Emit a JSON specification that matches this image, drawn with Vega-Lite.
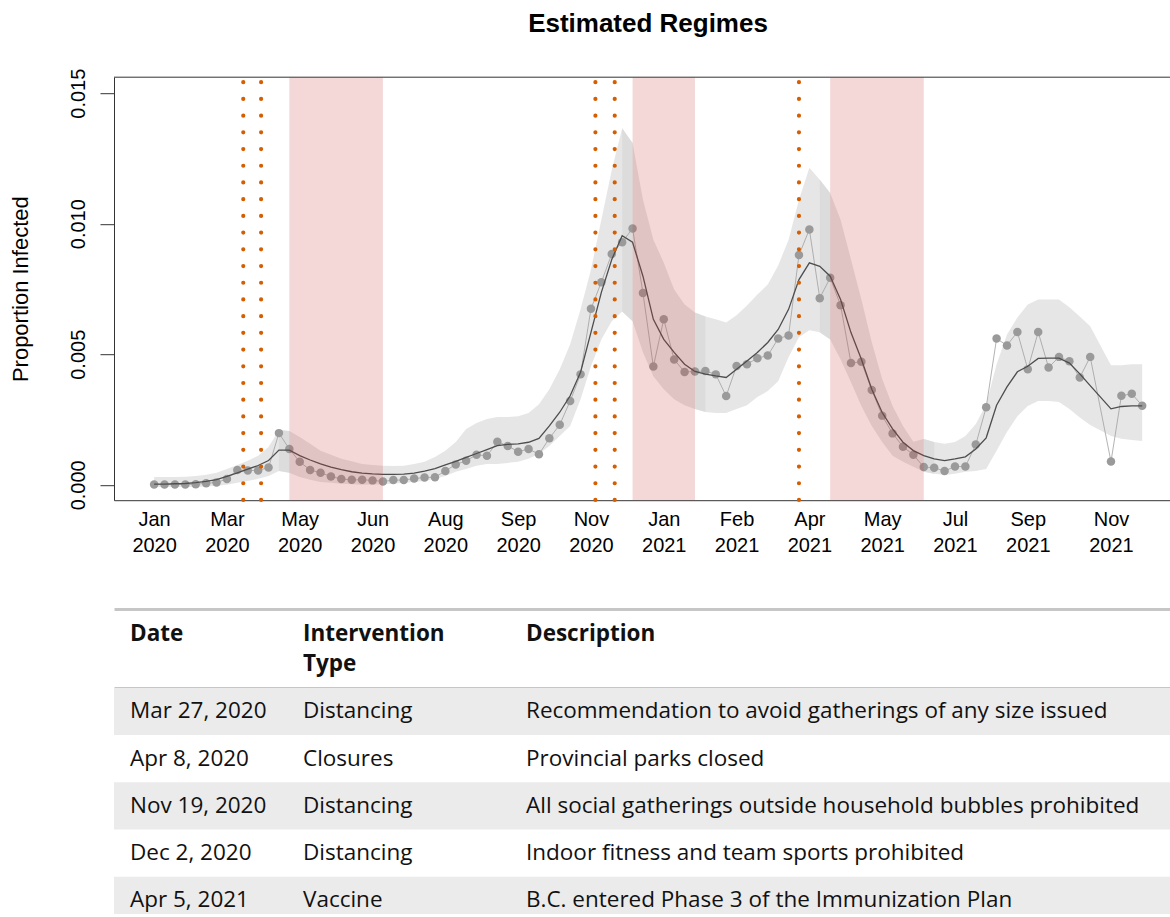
{
  "$schema": "https://vega.github.io/schema/vega-lite/v6.json",
  "background": "white",
  "padding": {"left": 9, "top": 10.2, "right": 0, "bottom": 0},
  "config": {"view": {"stroke": null}},
  "datasets": {
    "weekly": [
      {"date":"2020-01-27","obs":0.00001,"fit":0.00003,"lo":-0.00008,"hi":0.00030},
      {"date":"2020-02-03","obs":0.00001,"fit":0.00003,"lo":-0.00008,"hi":0.00030},
      {"date":"2020-02-10","obs":0.00001,"fit":0.00004,"lo":-0.00008,"hi":0.00030},
      {"date":"2020-02-17","obs":0.00001,"fit":0.00005,"lo":-0.00008,"hi":0.00031},
      {"date":"2020-02-24","obs":0.00002,"fit":0.00008,"lo":-0.00008,"hi":0.00034},
      {"date":"2020-03-02","obs":0.00006,"fit":0.00013,"lo":-0.00006,"hi":0.00039},
      {"date":"2020-03-09","obs":0.00009,"fit":0.00020,"lo":-0.00004,"hi":0.00046},
      {"date":"2020-03-16","obs":0.00022,"fit":0.00032,"lo":0.00000,"hi":0.00061},
      {"date":"2020-03-23","obs":0.00057,"fit":0.00046,"lo":0.00008,"hi":0.00076},
      {"date":"2020-03-30","obs":0.00055,"fit":0.00060,"lo":0.00015,"hi":0.00092},
      {"date":"2020-04-06","obs":0.00055,"fit":0.00074,"lo":0.00023,"hi":0.00111},
      {"date":"2020-04-13","obs":0.00066,"fit":0.00093,"lo":0.00034,"hi":0.00145},
      {"date":"2020-04-20","obs":0.00198,"fit":0.00133,"lo":0.00053,"hi":0.00210},
      {"date":"2020-04-27","obs":0.00137,"fit":0.00133,"lo":0.00046,"hi":0.00206},
      {"date":"2020-05-04","obs":0.00088,"fit":0.00112,"lo":0.00030,"hi":0.00183},
      {"date":"2020-05-11","obs":0.00057,"fit":0.00095,"lo":0.00019,"hi":0.00157},
      {"date":"2020-05-18","obs":0.00046,"fit":0.00080,"lo":0.00011,"hi":0.00130},
      {"date":"2020-05-25","obs":0.00032,"fit":0.00068,"lo":0.00008,"hi":0.00115},
      {"date":"2020-06-01","obs":0.00022,"fit":0.00058,"lo":0.00004,"hi":0.00100},
      {"date":"2020-06-08","obs":0.00019,"fit":0.00050,"lo":0.00002,"hi":0.00090},
      {"date":"2020-06-15","obs":0.00019,"fit":0.00045,"lo":0.00000,"hi":0.00080},
      {"date":"2020-06-22","obs":0.00017,"fit":0.00042,"lo":0.00001,"hi":0.00076},
      {"date":"2020-06-29","obs":0.00013,"fit":0.00040,"lo":0.00002,"hi":0.00073},
      {"date":"2020-07-06","obs":0.00018,"fit":0.00040,"lo":0.00004,"hi":0.00072},
      {"date":"2020-07-13","obs":0.00018,"fit":0.00041,"lo":0.00008,"hi":0.00073},
      {"date":"2020-07-20","obs":0.00024,"fit":0.00045,"lo":0.00011,"hi":0.00080},
      {"date":"2020-07-27","obs":0.00028,"fit":0.00052,"lo":0.00015,"hi":0.00088},
      {"date":"2020-08-03","obs":0.00029,"fit":0.00062,"lo":0.00023,"hi":0.00107},
      {"date":"2020-08-10","obs":0.00053,"fit":0.00076,"lo":0.00034,"hi":0.00130},
      {"date":"2020-08-17","obs":0.00078,"fit":0.00090,"lo":0.00050,"hi":0.00164},
      {"date":"2020-08-24","obs":0.00092,"fit":0.00105,"lo":0.00061,"hi":0.00214},
      {"date":"2020-08-31","obs":0.00115,"fit":0.00120,"lo":0.00073,"hi":0.00237},
      {"date":"2020-09-07","obs":0.00111,"fit":0.00135,"lo":0.00080,"hi":0.00252},
      {"date":"2020-09-14","obs":0.00165,"fit":0.00150,"lo":0.00080,"hi":0.00260},
      {"date":"2020-09-21","obs":0.00149,"fit":0.00155,"lo":0.00084,"hi":0.00260},
      {"date":"2020-09-28","obs":0.00127,"fit":0.00157,"lo":0.00088,"hi":0.00263},
      {"date":"2020-10-05","obs":0.00137,"fit":0.00163,"lo":0.00100,"hi":0.00275},
      {"date":"2020-10-12","obs":0.00117,"fit":0.00178,"lo":0.00118,"hi":0.00309},
      {"date":"2020-10-19","obs":0.00178,"fit":0.00226,"lo":0.00149,"hi":0.00366},
      {"date":"2020-10-26","obs":0.00230,"fit":0.00278,"lo":0.00187,"hi":0.00443},
      {"date":"2020-11-02","obs":0.00321,"fit":0.00341,"lo":0.00225,"hi":0.00538},
      {"date":"2020-11-09","obs":0.00423,"fit":0.00431,"lo":0.00328,"hi":0.00672},
      {"date":"2020-11-16","obs":0.00674,"fit":0.00584,"lo":0.00454,"hi":0.00824},
      {"date":"2020-11-23","obs":0.00776,"fit":0.00737,"lo":0.00557,"hi":0.01015},
      {"date":"2020-11-30","obs":0.00884,"fit":0.00863,"lo":0.00626,"hi":0.01206},
      {"date":"2020-12-07","obs":0.00929,"fit":0.00954,"lo":0.00664,"hi":0.01366},
      {"date":"2020-12-14","obs":0.00982,"fit":0.00929,"lo":0.00626,"hi":0.01309},
      {"date":"2020-12-21","obs":0.00735,"fit":0.00799,"lo":0.00508,"hi":0.01092},
      {"date":"2020-12-28","obs":0.00453,"fit":0.00634,"lo":0.00416,"hi":0.00939},
      {"date":"2021-01-04","obs":0.00634,"fit":0.00557,"lo":0.00366,"hi":0.00851},
      {"date":"2021-01-11","obs":0.00480,"fit":0.00507,"lo":0.00328,"hi":0.00748},
      {"date":"2021-01-18","obs":0.00432,"fit":0.00462,"lo":0.00305,"hi":0.00691},
      {"date":"2021-01-25","obs":0.00434,"fit":0.00434,"lo":0.00290,"hi":0.00660},
      {"date":"2021-02-01","obs":0.00436,"fit":0.00424,"lo":0.00279,"hi":0.00645},
      {"date":"2021-02-08","obs":0.00423,"fit":0.00417,"lo":0.00275,"hi":0.00634},
      {"date":"2021-02-15","obs":0.00340,"fit":0.00411,"lo":0.00275,"hi":0.00622},
      {"date":"2021-02-22","obs":0.00455,"fit":0.00443,"lo":0.00290,"hi":0.00649},
      {"date":"2021-03-01","obs":0.00462,"fit":0.00474,"lo":0.00305,"hi":0.00687},
      {"date":"2021-03-08","obs":0.00485,"fit":0.00507,"lo":0.00336,"hi":0.00729},
      {"date":"2021-03-15","obs":0.00495,"fit":0.00545,"lo":0.00359,"hi":0.00767},
      {"date":"2021-03-22","obs":0.00560,"fit":0.00595,"lo":0.00397,"hi":0.00840},
      {"date":"2021-03-29","obs":0.00572,"fit":0.00672,"lo":0.00489,"hi":0.00939},
      {"date":"2021-04-05","obs":0.00880,"fit":0.00786,"lo":0.00565,"hi":0.01092},
      {"date":"2021-04-12","obs":0.00978,"fit":0.00850,"lo":0.00592,"hi":0.01214},
      {"date":"2021-04-19","obs":0.00715,"fit":0.00837,"lo":0.00584,"hi":0.01168},
      {"date":"2021-04-26","obs":0.00793,"fit":0.00799,"lo":0.00557,"hi":0.01118},
      {"date":"2021-05-03","obs":0.00688,"fit":0.00710,"lo":0.00481,"hi":0.01015},
      {"date":"2021-05-10","obs":0.00467,"fit":0.00583,"lo":0.00393,"hi":0.00863},
      {"date":"2021-05-17","obs":0.00471,"fit":0.00481,"lo":0.00302,"hi":0.00710},
      {"date":"2021-05-24","obs":0.00363,"fit":0.00366,"lo":0.00225,"hi":0.00546},
      {"date":"2021-05-31","obs":0.00265,"fit":0.00277,"lo":0.00164,"hi":0.00405},
      {"date":"2021-06-07","obs":0.00197,"fit":0.00214,"lo":0.00111,"hi":0.00302},
      {"date":"2021-06-14","obs":0.00146,"fit":0.00163,"lo":0.00088,"hi":0.00225},
      {"date":"2021-06-21","obs":0.00115,"fit":0.00131,"lo":0.00069,"hi":0.00165},
      {"date":"2021-06-28","obs":0.00068,"fit":0.00112,"lo":0.00050,"hi":0.00175},
      {"date":"2021-07-05","obs":0.00065,"fit":0.00099,"lo":0.00042,"hi":0.00164},
      {"date":"2021-07-12","obs":0.00053,"fit":0.00093,"lo":0.00038,"hi":0.00157},
      {"date":"2021-07-19","obs":0.00070,"fit":0.00099,"lo":0.00042,"hi":0.00164},
      {"date":"2021-07-26","obs":0.00070,"fit":0.00107,"lo":0.00050,"hi":0.00187},
      {"date":"2021-08-02","obs":0.00154,"fit":0.00137,"lo":0.00053,"hi":0.00233},
      {"date":"2021-08-09","obs":0.00297,"fit":0.00180,"lo":0.00061,"hi":0.00309},
      {"date":"2021-08-16","obs":0.00560,"fit":0.00305,"lo":0.00130,"hi":0.00462},
      {"date":"2021-08-23","obs":0.00534,"fit":0.00375,"lo":0.00202,"hi":0.00576},
      {"date":"2021-08-30","obs":0.00585,"fit":0.00433,"lo":0.00263,"hi":0.00641},
      {"date":"2021-09-06","obs":0.00443,"fit":0.00454,"lo":0.00302,"hi":0.00691},
      {"date":"2021-09-13","obs":0.00585,"fit":0.00484,"lo":0.00321,"hi":0.00710},
      {"date":"2021-09-20","obs":0.00449,"fit":0.00485,"lo":0.00321,"hi":0.00710},
      {"date":"2021-09-27","obs":0.00490,"fit":0.00485,"lo":0.00317,"hi":0.00710},
      {"date":"2021-10-04","obs":0.00473,"fit":0.00466,"lo":0.00290,"hi":0.00680},
      {"date":"2021-10-11","obs":0.00411,"fit":0.00425,"lo":0.00258,"hi":0.00645},
      {"date":"2021-10-18","obs":0.00490,"fit":0.00380,"lo":0.00229,"hi":0.00607},
      {"date":"2021-11-01","obs":0.00089,"fit":0.00291,"lo":0.00187,"hi":0.00458},
      {"date":"2021-11-08","obs":0.00341,"fit":0.00300,"lo":0.00176,"hi":0.00458},
      {"date":"2021-11-15","obs":0.00349,"fit":0.00302,"lo":0.00172,"hi":0.00462},
      {"date":"2021-11-22","obs":0.00303,"fit":0.00302,"lo":0.00168,"hi":0.00462}
    ],
    "seams": [
      {"seam":"a","date":"2020-04-20","lo":0.00053,"hi":0.00210},
      {"seam":"a","date":"2020-04-27","lo":0.00046,"hi":0.00206},
      {"seam":"b","date":"2020-12-07","lo":0.00664,"hi":0.01366},
      {"seam":"b","date":"2020-12-14","lo":0.00626,"hi":0.01309},
      {"seam":"c","date":"2021-01-25","lo":0.00290,"hi":0.00660},
      {"seam":"c","date":"2021-02-01","lo":0.00279,"hi":0.00645},
      {"seam":"d","date":"2021-04-19","lo":0.00584,"hi":0.01168},
      {"seam":"d","date":"2021-04-26","lo":0.00557,"hi":0.01118},
      {"seam":"e","date":"2021-06-28","lo":0.00050,"hi":0.00175},
      {"seam":"e","date":"2021-07-05","lo":0.00042,"hi":0.00164}
    ],
    "regimes": [
      {"start":"2020-04-27","end":"2020-06-29"},
      {"start":"2020-12-14","end":"2021-01-25"},
      {"start":"2021-04-26","end":"2021-06-28"}
    ],
    "interventions": [
      {"row":1,"date":"2020-03-27","label":"Mar 27, 2020","type":"Distancing","desc":"Recommendation to avoid gatherings of any size issued"},
      {"row":2,"date":"2020-04-08","label":"Apr 8, 2020","type":"Closures","desc":"Provincial parks closed"},
      {"row":3,"date":"2020-11-19","label":"Nov 19, 2020","type":"Distancing","desc":"All social gatherings outside household bubbles prohibited"},
      {"row":4,"date":"2020-12-02","label":"Dec 2, 2020","type":"Distancing","desc":"Indoor fitness and team sports prohibited"},
      {"row":5,"date":"2021-04-05","label":"Apr 5, 2021","type":"Vaccine","desc":"B.C. entered Phase 3 of the Immunization Plan"}
    ],
    "header": [
      {"col":1,"line":1,"label":"Date"},
      {"col":2,"line":1,"label":"Intervention"},
      {"col":2,"line":2,"label":"Type"},
      {"col":3,"line":1,"label":"Description"}
    ]
  },
  "spacing": 53.7,
  "vconcat": [
    {
      "width": 1056,
      "height": 423,
      "title": {"text": "Estimated Regimes", "font": "Liberation Sans", "fontSize": 26, "fontWeight": "bold", "color": "#000", "anchor": "middle", "frame": "group", "dx": 6, "offset": 31.5},
      "layer": [
        {
          "data": {"name": "weekly"},
          "mark": {"type": "area", "color": "#d5d5d5", "opacity": 0.6},
          "encoding": {
            "x": {"field": "date", "type": "temporal",
              "scale": {"type": "utc", "domain": [{"year": 2019, "month": 12, "date": 31, "utc": true}, {"year": 2021, "month": 12, "date": 10, "hours": 17, "utc": true}]},
              "axis": {"title": null,
                "values": [
                  {"year": 2020, "month": 1, "date": 27, "utc": true},
                  {"year": 2020, "month": 3, "date": 16, "utc": true},
                  {"year": 2020, "month": 5, "date": 4, "utc": true},
                  {"year": 2020, "month": 6, "date": 22, "utc": true},
                  {"year": 2020, "month": 8, "date": 10, "utc": true},
                  {"year": 2020, "month": 9, "date": 28, "utc": true},
                  {"year": 2020, "month": 11, "date": 16, "utc": true},
                  {"year": 2021, "month": 1, "date": 4, "utc": true},
                  {"year": 2021, "month": 2, "date": 22, "utc": true},
                  {"year": 2021, "month": 4, "date": 12, "utc": true},
                  {"year": 2021, "month": 5, "date": 31, "utc": true},
                  {"year": 2021, "month": 7, "date": 19, "utc": true},
                  {"year": 2021, "month": 9, "date": 6, "utc": true},
                  {"year": 2021, "month": 11, "date": 1, "utc": true}
                ],
                "labelExpr": "[utcFormat(datum.value, '%b'), utcFormat(datum.value, '%Y')]",
                "labelFont": "Liberation Sans", "labelFontSize": 20, "labelColor": "#000",
                "labelPadding": 9, "labelBaseline": "top", "labelLineHeight": 26, "labelAngle": 0, "labelAlign": "center",
                "labelOverlap": false, "labelFlush": false, "labelBound": false,
                "ticks": false, "grid": false, "domainColor": "#333", "domainWidth": 1}},
            "y": {"field": "lo", "type": "quantitative",
              "scale": {"domain": [-0.000589, 0.015612], "nice": false, "zero": false},
              "axis": {"title": "Proportion Infected", "values": [0, 0.005, 0.01, 0.015], "format": ".3f",
                "labelFont": "Liberation Sans", "labelFontSize": 20, "labelColor": "#000",
                "labelAngle": 270, "labelAlign": "center", "labelBaseline": "alphabetic", "labelPadding": 16,
                "tickSize": 14, "tickColor": "#333", "domainColor": "#333", "grid": false,
                "titleFont": "Liberation Sans", "titleFontSize": 22, "titleFontWeight": "normal", "titleColor": "#000", "titlePadding": 36}},
            "y2": {"field": "hi"}
          }
        },
        {
          "data": {"name": "seams"},
          "mark": {"type": "area", "color": "#d5d5d5", "opacity": 0.6},
          "encoding": {
            "x": {"field": "date", "type": "temporal"},
            "y": {"field": "lo", "type": "quantitative"},
            "y2": {"field": "hi"},
            "detail": {"field": "seam"}
          }
        },
        {
          "data": {"name": "weekly"},
          "mark": {"type": "line", "color": "#a0a0a0", "strokeWidth": 0.8},
          "encoding": {
            "x": {"field": "date", "type": "temporal"},
            "y": {"field": "obs", "type": "quantitative"}
          }
        },
        {
          "data": {"name": "weekly"},
          "mark": {"type": "circle", "size": 72, "color": "#9a9a9a", "opacity": 1},
          "encoding": {
            "x": {"field": "date", "type": "temporal"},
            "y": {"field": "obs", "type": "quantitative"}
          }
        },
        {
          "data": {"name": "weekly"},
          "mark": {"type": "line", "color": "#4d4d4d", "strokeWidth": 1.3},
          "encoding": {
            "x": {"field": "date", "type": "temporal"},
            "y": {"field": "fit", "type": "quantitative"}
          }
        },
        {
          "data": {"name": "regimes"},
          "mark": {"type": "rect", "color": "#c83c3c", "opacity": 0.2},
          "encoding": {
            "x": {"field": "start", "type": "temporal"},
            "x2": {"field": "end"}
          }
        },
        {
          "data": {"name": "interventions"},
          "mark": {"type": "rule", "color": "#D55E00", "strokeWidth": 4.2, "strokeCap": "round", "strokeDash": [0.01, 16.7], "strokeDashOffset": 11.7},
          "encoding": {
            "x": {"field": "date", "type": "temporal"}
          }
        },
        {
          "data": {"values": [{}]},
          "mark": {"type": "rule", "color": "#333", "strokeWidth": 1},
          "encoding": {
            "y": {"datum": 0.015612, "type": "quantitative"}
          }
        }
      ]
    },
    {
      "spacing": 0,
      "vconcat": [
        {
          "width": 1056,
          "height": 78.5,
          "data": {"name": "header"},
          "mark": {"type": "text", "align": "left", "baseline": "middle", "font": "Open Sans", "fontSize": 22.5, "fontWeight": "bold", "color": "#111"},
          "encoding": {
            "x": {"field": "col", "type": "quantitative",
              "scale": {"domain": [0, 1, 2, 3, 4], "range": [0, 16, 189, 412, 1056]},
              "axis": {"orient": "top", "title": null, "labels": false, "ticks": false, "grid": false, "domain": true, "domainColor": "#c6c6c6", "domainWidth": 3}},
            "y": {"field": "line", "type": "ordinal", "scale": {"type": "band", "paddingOuter": 0.31, "paddingInner": 0, "align": 0.55}, "axis": null},
            "text": {"field": "label"}
          }
        },
        {
          "width": 1056,
          "height": 226,
          "data": {"name": "interventions"},
          "layer": [
            {
              "transform": [{"filter": "datum.row % 2 == 1"}],
              "mark": {"type": "rect", "color": "#ebebeb", "clip": true},
              "encoding": {
                "y": {"field": "row", "type": "ordinal", "scale": {"type": "band", "range": [0, 236], "paddingInner": 0, "paddingOuter": 0}, "axis": null}
              }
            },
            {
              "mark": {"type": "text", "align": "left", "baseline": "middle", "font": "Open Sans", "fontSize": 22.5, "color": "#111"},
              "encoding": {
                "x": {"datum": 1, "type": "quantitative",
                  "scale": {"domain": [0, 1, 2, 3, 4], "range": [0, 16, 189, 412, 1056]},
                  "axis": {"orient": "top", "title": null, "labels": false, "ticks": false, "grid": false, "domain": true, "domainColor": "#c6c6c6", "domainWidth": 3}},
                "y": {"field": "row", "type": "ordinal"},
                "text": {"field": "label"}
              }
            },
            {
              "mark": {"type": "text", "align": "left", "baseline": "middle", "font": "Open Sans", "fontSize": 22.5, "color": "#111"},
              "encoding": {
                "x": {"datum": 2, "type": "quantitative"},
                "y": {"field": "row", "type": "ordinal"},
                "text": {"field": "type"}
              }
            },
            {
              "mark": {"type": "text", "align": "left", "baseline": "middle", "font": "Open Sans", "fontSize": 22.5, "color": "#111"},
              "encoding": {
                "x": {"datum": 3, "type": "quantitative"},
                "y": {"field": "row", "type": "ordinal"},
                "text": {"field": "desc"}
              }
            }
          ]
        }
      ]
    }
  ]
}
